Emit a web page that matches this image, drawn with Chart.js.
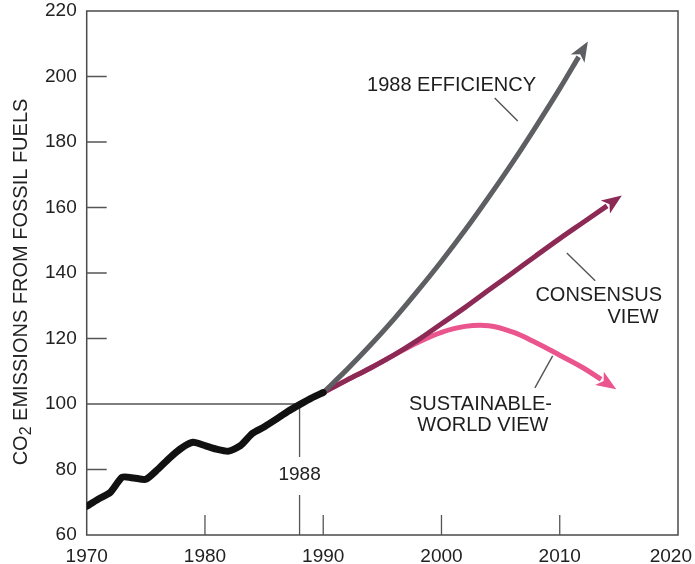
<!DOCTYPE html>
<html><head><meta charset="utf-8">
<script src="https://cdn.jsdelivr.net/npm/chart.js@4/dist/chart.umd.min.js"></script>
<style>html,body{margin:0;padding:0;background:#fff}#wrap{width:695px;height:564px;position:relative}</style>
</head><body><div id="wrap"><canvas id="c"></canvas></div>
<script>
// ---- data ----
const historicYears  = [1970,1971,1972,1973,1974,1975,1976,1977,1978,1979,1980,1981,1982,1983,1984,1985,1986,1987,1988,1989,1990];
const historicValues = [68.8,71,73,77.6,77.4,77,80,83.5,86.5,88.3,87.3,86.2,85.6,87.3,91,93,95.3,97.7,99.8,101.8,103.5];
const efficiencyYears  = [1990,1992,1994,1996,1998,2000,2002,2004,2006,2008,2010,2011.6];
const efficiencyValues = [103.5,110.5,118,126,134.6,143.6,153.1,163.2,173.7,184.8,196.3,206];
const consensusYears  = [1990,1992,1994,1996,1998,2000,2002,2004,2006,2008,2010,2012,2014];
const consensusValues = [103.5,107.3,111,115,119.5,124.5,129.5,134.8,140,145.3,150.5,155.5,160.5];
const sustainableYears  = [1990,1992,1994,1996,1998,2000,2002,2004,2006,2008,2010,2012,2013.5];
const sustainableValues = [103.5,107.3,111,115,118.8,121.9,123.7,123.9,122,118.7,114.9,111,107.5];
const yTickValues = [60,80,100,120,140,160,180,200,220];
const xTickValues = [1970,1980,1990,2000,2010,2020];
const xTickLabels = ['1970','1980','1990','2000','2010','2020'];
const refYear = 1988;
const refValue = 100;
const seriesNames = ['HISTORIC','1988 EFFICIENCY','CONSENSUS VIEW','SUSTAINABLE-WORLD VIEW'];

// annotation texts (data coordinates)
const notes = [
  {lines:['1988 EFFICIENCY'], x:2000.85, y:197.2},
  {lines:['CONSENSUS'], x:2013.3, y:133.0},
  {lines:['VIEW'], x:2016.2, y:126.3},
  {lines:['SUSTAINABLE-'], x:2003.3, y:99.7},
  {lines:['WORLD VIEW'], x:2003.5, y:93.3}
];
const leaders = [
  [2004.5,193.4,2006.45,186.4],
  [2010.6,146.1,2013.0,137.6],
  [2009.4,114.7,2007.9,104.9]
];

const FONT = "'Liberation Sans', Arial, Helvetica, sans-serif";
const pts = (xs, ys) => xs.map((x,i)=>({x, y: ys[i]}));

const overlay = {
  id:'overlay',
  beforeDatasetsDraw(chart){
    const {ctx, chartArea:a, scales:{x,y}} = chart;
    ctx.save();
    ctx.strokeStyle = '#4a4a4a'; ctx.lineWidth = 1.5;
    ctx.strokeRect(a.left, a.top, a.right-a.left, a.bottom-a.top);
    ctx.strokeStyle = '#555'; ctx.lineWidth = 1.3;
    ctx.beginPath();
    yTickValues.forEach(v=>{ if(v===yTickValues[0]||v===yTickValues[yTickValues.length-1]||v===refValue) return;
      const py = y.getPixelForValue(v); ctx.moveTo(a.left, py); ctx.lineTo(a.left+20, py); });
    xTickValues.forEach(v=>{ if(v===xTickValues[0]||v===xTickValues[xTickValues.length-1]) return;
      const px = x.getPixelForValue(v); ctx.moveTo(px, a.bottom); ctx.lineTo(px, a.bottom-20); });
    // reference lines
    const rx = x.getPixelForValue(refYear), ry = y.getPixelForValue(refValue);
    ctx.moveTo(a.left, ry); ctx.lineTo(rx, ry);
    const ly = a.bottom - 60;
    ctx.moveTo(rx, ry); ctx.lineTo(rx, ly-18);
    ctx.moveTo(rx, ly+20); ctx.lineTo(rx, a.bottom);
    ctx.stroke();
    ctx.fillStyle = '#222'; ctx.font = '19px '+FONT; ctx.textAlign='center'; ctx.textBaseline='middle';
    ctx.fillText(String(refYear), rx, ly);
    ctx.restore();
  },
  afterDatasetsDraw(chart){
    const {ctx, chartArea:a, scales:{x,y}} = chart;
    ctx.save();
    // arrowheads
    [1,2,3].forEach(i=>{
      const d = chart.getDatasetMeta(i).data; const n = d.length;
      const p = d[n-1], q = d[n-2];
      let dx = p.x-q.x, dy = p.y-q.y; const L = Math.hypot(dx,dy); dx/=L; dy/=L;
      const len = 18, w = 8;
      ctx.fillStyle = chart.data.datasets[i].borderColor;
      ctx.beginPath();
      ctx.moveTo(p.x+dx*len, p.y+dy*len);
      ctx.lineTo(p.x-dy*w - dx*2, p.y+dx*w - dy*2);
      ctx.lineTo(p.x+dx*3, p.y+dy*3);
      ctx.lineTo(p.x+dy*w - dx*2, p.y-dx*w - dy*2);
      ctx.closePath(); ctx.fill();
    });
    // leaders
    ctx.strokeStyle='#555'; ctx.lineWidth=1.4; ctx.beginPath();
    leaders.forEach(l=>{ ctx.moveTo(x.getPixelForValue(l[0]), y.getPixelForValue(l[1])); ctx.lineTo(x.getPixelForValue(l[2]), y.getPixelForValue(l[3])); });
    ctx.stroke();
    // notes
    ctx.fillStyle='#1e1e1e'; ctx.font='20px '+FONT; ctx.textAlign='center'; ctx.textBaseline='middle';
    notes.forEach(nt=>{ nt.lines.forEach((t,k)=>ctx.fillText(t, x.getPixelForValue(nt.x), y.getPixelForValue(nt.y)+k*21)); });
    // x tick labels
    ctx.font='19px '+FONT; ctx.fillStyle='#222';
    xTickValues.forEach((v,i)=>{
      const t = xTickLabels[i]; const w = ctx.measureText(t).width;
      let px = x.getPixelForValue(v);
      px = Math.min(Math.max(px, w/2+2), chart.width - w/2 - 3);
      ctx.fillText(t, px, a.bottom+22);
    });
    // y title with subscript
    const cy = (a.top+a.bottom)/2 + 9;
    ctx.translate(21, cy); ctx.rotate(-Math.PI/2);
    ctx.textAlign='left'; ctx.textBaseline='middle';
    const f1='20px '+FONT, f2='16px '+FONT;
    ctx.font=f1; const w1=ctx.measureText('CO').width, w3=ctx.measureText(' EMISSIONS FROM FOSSIL FUELS').width;
    ctx.font=f2; const w2=ctx.measureText('2').width;
    let sx = -(w1+w2+w3)/2;
    ctx.font=f1; ctx.fillText('CO', sx, 0); sx+=w1;
    ctx.font=f2; ctx.fillText('2', sx, 6); sx+=w2;
    ctx.font=f1; ctx.fillText(' EMISSIONS FROM FOSSIL FUELS', sx, 0);
    ctx.restore();
  }
};

new Chart(document.getElementById('c'), {
  type:'line',
  data:{datasets:[
    {label:seriesNames[0], data:pts(historicYears,historicValues), borderColor:'#111', borderWidth:7, tension:0.2, pointRadius:0, borderCapStyle:'round', borderJoinStyle:'round'},
    {label:seriesNames[1], data:pts(efficiencyYears,efficiencyValues), borderColor:'#5e5f63', borderWidth:5, cubicInterpolationMode:'monotone', pointRadius:0},
    {label:seriesNames[2], data:pts(consensusYears,consensusValues), borderColor:'#8c2a55', borderWidth:5, cubicInterpolationMode:'monotone', pointRadius:0},
    {label:seriesNames[3], data:pts(sustainableYears,sustainableValues), borderColor:'#e9558c', borderWidth:5, tension:0.4, pointRadius:0}
  ]},
  options:{
    responsive:true, maintainAspectRatio:false, animation:false,
    layout:{padding:{left:35,right:17,top:11,bottom:29}},
    plugins:{legend:{display:false}, tooltip:{enabled:false}},
    scales:{
      x:{type:'linear', min:1970, max:2020, display:false},
      y:{type:'linear', min:60, max:220,
         afterBuildTicks:s=>{ s.ticks = yTickValues.map(v=>({value:v})); },
         afterFit:s=>{ s.paddingTop = 0; s.paddingBottom = 0; },
         grid:{display:false, drawTicks:false}, border:{display:false},
         ticks:{padding:10, color:'#222', font:{family:FONT, size:19, lineHeight:1}}}
    }
  },
  plugins:[overlay]
});
</script></body></html>
